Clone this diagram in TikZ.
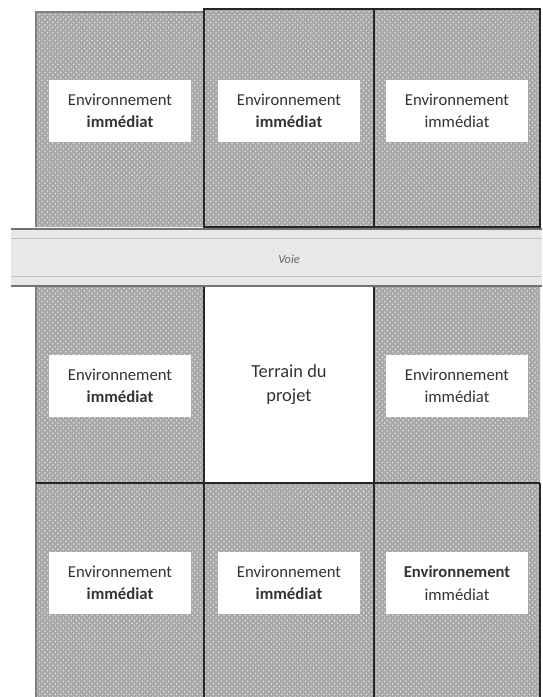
\documentclass[tikz,border=0pt]{standalone}
\usepackage{fontspec}
\setmainfont{Carlito}
\usetikzlibrary{patterns}
\definecolor{lotgris}{RGB}{168,168,168}
\definecolor{voiegris}{RGB}{232,232,232}

\begin{document}
\begin{tikzpicture}[x=0.02cm,y=-0.02cm,
                    lot/.style={fill=lotgris,postaction={pattern=crosshatch dots,
                                pattern color=black!12}},
                    limite/.style={draw=black!85,line width=1.1pt},
                    bord/.style={draw=black!50,line width=.6pt},
                    etiquette/.style={fill=white,minimum width=2.86cm,minimum height=1.24cm,
                                inner sep=0pt,align=center,text=black!80,
                                font=\fontsize{9.5}{12.8}\selectfont}]
  \useasboundingbox (0,0) rectangle (542,697);

  \path[lot] (36,12)   rectangle (204,227)
             (204,9)   rectangle (540,227)
             (36,287)  rectangle (204,697)
             (374,287) rectangle (540,697)
             (204,483) rectangle (374,697);

  \draw[bord]   (36,227) -- (36,12) -- (204,12)
                (36,287) -- (36,697);
  \draw[limite] (204,227) -- (204,9) -- (540,9) -- (540,227) -- cycle
                (374,9) -- (374,227)
                (204,287) -- (204,697)
                (374,287) -- (374,697)
                (36,483) -- (540,483)
                (540,483) -- (540,697);

  \fill[voiegris] (11,229) rectangle (542,286);
  \draw[black!55,line width=.8pt] (11,229) -- (542,229)  (11,286) -- (542,286);
  \draw[black!25] (11,238) -- (542,238)  (11,276) -- (542,276);

  \path   (120,111) node[etiquette] (envNO) {Environnement\\\textbf{immédiat}}
         ++(169,0)  node[etiquette] (envN)  {Environnement\\\textbf{immédiat}}
         ++(168,0)  node[etiquette] (envNE) {Environnement\\immédiat};
  \path   (120,386) node[etiquette] (envO)  {Environnement\\\textbf{immédiat}}
         ++(337,0)  node[etiquette] (envE)  {Environnement\\immédiat};
  \path   (120,583) node[etiquette] (envSO) {Environnement\\\textbf{immédiat}}
         ++(169,0)  node[etiquette] (envS)  {Environnement\\\textbf{immédiat}}
         ++(168,0)  node[etiquette] (envSE) {\textbf{Environnement}\\immédiat};

  \node (terrain) at (289,385) [align=center,text=black!80,
        font=\fontsize{10.5}{13.6}\selectfont] {Terrain du\\projet};
  \node (voie) at (289,259) [text=black!60,font=\fontsize{7}{8}\selectfont\itshape] {Voie};
\end{tikzpicture}
\end{document}
